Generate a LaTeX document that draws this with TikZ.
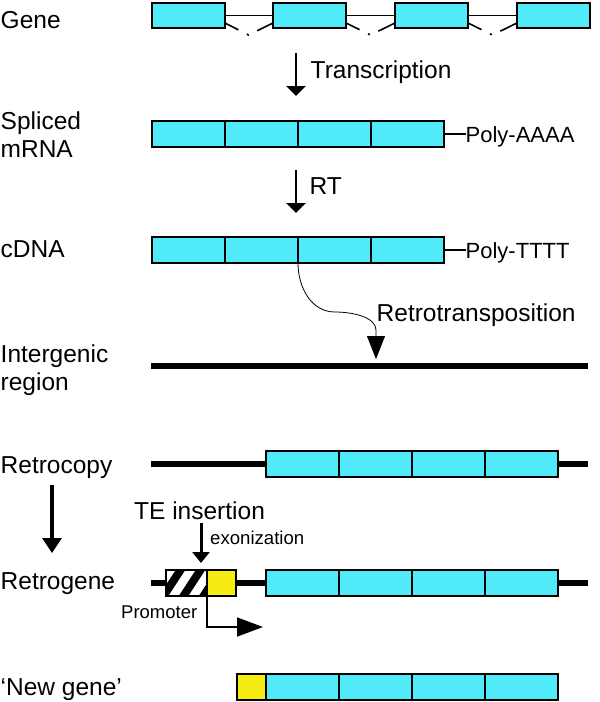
\documentclass[tikz,border=0pt]{standalone}
\usepackage{fontspec}
\setmainfont{Liberation Sans}
\usetikzlibrary{arrows.meta}
\definecolor{exoncyan}{RGB}{80,234,248}
\definecolor{promyellow}{RGB}{246,236,20}
\begin{document}
\begin{tikzpicture}[x=1pt,y=-1pt,
  exon/.style={draw=black, line width=2pt, fill=exoncyan, minimum width=73pt, minimum height=26pt, inner sep=0pt, outer sep=0pt},
  yexon/.style={exon, fill=promyellow, minimum width=29pt},
  lab/.style={font=\fontsize{24.5}{28}\selectfont, inner sep=0pt, anchor=base west},
  polylab/.style={font=\fontsize{22}{26}\selectfont, inner sep=0pt, anchor=base west},
  smalllab/.style={font=\fontsize{18.6}{22}\selectfont, inner sep=0pt, anchor=base west},
  intron/.style={line width=1.5pt},
  splice/.style={line width=1.6pt, dash pattern=on 15pt off 9.5pt on 2pt off 9.5pt on 20pt},
  chrom/.style={line width=6pt},
  polyline/.style={line width=1.8pt},
  downarrow/.style={line width=2.7pt, -{Triangle[length=10pt,width=19pt]}},
  bigarrow/.style={line width=3.2pt, -{Triangle[length=15pt,width=19pt]}},
  tearrow/.style={line width=3pt, -{Triangle[length=11pt,width=17pt]}},
  curvearrow/.style={line width=0.8pt, -{Triangle[length=23pt,width=18pt]}},
  promarrow/.style={line width=1.5pt, -{Triangle[length=26pt,width=19pt]}}
]
\useasboundingbox (0,0) rectangle (600,702);

% ---------- Gene ----------
\node[exon, minimum height=25pt] (g1) at (188.5,15.5) {};
\node[exon, minimum height=25pt] (g2) at (309.5,15.5) {};
\node[exon, minimum height=25pt] (g3) at (431.5,15.5) {};
\node[exon, minimum height=25pt] (g4) at (553.5,15.5) {};
\draw[intron] (g1.east) -- (g2.west);
\draw[intron] (g2.east) -- (g3.west);
\draw[intron] (g3.east) -- (g4.west);
\draw[splice] ([yshift=-7.5pt]g1.east) -- ++(23.5,12) -- ([yshift=-7.5pt]g2.west);
\draw[splice] ([yshift=-7.5pt]g2.east) -- ++(24.5,12) -- ([yshift=-7.5pt]g3.west);
\draw[splice] ([yshift=-7.5pt]g3.east) -- ++(24.5,12) -- ([yshift=-7.5pt]g4.west);
\node[lab] (lgene) at (0.5,28) {Gene};

% Transcription
\coordinate (ta) at (296,53);
\coordinate (tb) at (296,96);
\draw[downarrow] (ta) -- (tb);
\node[lab] (ltrans) at (310.5,78) {Transcription};

% ---------- Spliced mRNA ----------
\node[exon] (m1) at (188.5,134) {};
\node[exon] (m2) at (261.5,134) {};
\node[exon] (m3) at (334.5,134) {};
\node[exon] (m4) at (407.5,134) {};
\node[polylab] (pa) at (465.5,142) {Poly-AAAA};
\draw[polyline] (m4.east) -- (m4.east -| pa.west);
\node[lab] (lspl1) at (0.5,129) {Spliced};
\node[lab] (lspl2) at (0.5,157) {mRNA};

% RT
\coordinate (ra) at (296,170);
\coordinate (rb) at (296,213);
\draw[downarrow] (ra) -- (rb);
\node[lab] (lrt) at (309.5,194) {RT};

% ---------- cDNA ----------
\node[exon] (c1) at (188.5,250) {};
\node[exon] (c2) at (261.5,250) {};
\node[exon] (c3) at (334.5,250) {};
\node[exon] (c4) at (407.5,250) {};
\node[polylab] (pt) at (465.5,258) {Poly-TTTT};
\draw[polyline] (c4.east) -- (c4.east -| pt.west);
\node[lab] (lcdna) at (0.5,257) {cDNA};

% ---------- Intergenic region ----------
\coordinate (ig1) at (151,366);
\coordinate (ig2) at (588,366);
\draw[chrom] (ig1) -- (ig2);
\node[lab] (lig1) at (0.5,362) {Intergenic};
\node[lab] (lig2) at (0.5,390) {region};

% Retrotransposition
\coordinate (ins) at (376,359);
\draw[curvearrow] (c3.south west) .. controls (298,287) and (311,312) .. (335,312)
  .. controls (353.6,312) and (376,317.4) .. (376,330) -- (ins);
\node[lab] (lretro) at (376.5,321) {Retrotransposition};

% ---------- Retrocopy ----------
\coordinate (rc1) at (151,464);
\coordinate (rc2) at (588,464);
\draw[chrom] (rc1) -- (rc2);
\node[exon] (r1) at (302.5,464) {};
\node[exon] (r2) at (375.5,464) {};
\node[exon] (r3) at (448.5,464) {};
\node[exon] (r4) at (521.5,464) {};
\node[lab] (lrc) at (0.5,473) {Retrocopy};

% Retrocopy -> Retrogene
\coordinate (la) at (52,485);
\coordinate (lb) at (52,553);
\draw[bigarrow] (la) -- (lb);

% TE insertion
\node[lab] (lte) at (134,519) {TE insertion};
\coordinate (tea) at (201,523);
\coordinate (teb) at (201,563);
\draw[tearrow] (tea) -- (teb);
\node[smalllab] (lexon) at (210,544) {exonization};

% ---------- Retrogene ----------
\coordinate (rg1) at (151,583);
\coordinate (rg2) at (588,583);
\draw[chrom] (rg1) -- (rg2);
\node[exon, fill=white, minimum width=41pt] (te) at (186.5,583) {};
\begin{scope}
  \clip (te.south west) rectangle (te.north east);
  \foreach \sx in {172,192,212} {
    \draw[line width=8pt] (\sx-9.8,598) -- (\sx+9.8,568);
  }
\end{scope}
\draw[line width=2pt] (te.south west) rectangle (te.north east);
\node[yexon] (p1) at (221.5,583) {};
\node[exon] (q1) at (302.5,583) {};
\node[exon] (q2) at (375.5,583) {};
\node[exon] (q3) at (448.5,583) {};
\node[exon] (q4) at (521.5,583) {};
\node[lab] (lrg) at (0.5,589) {Retrogene};

% Promoter
\coordinate (pend) at (263,627);
\draw[promarrow] (p1.south west) |- (pend);
\node[smalllab, font=\fontsize{18.5}{22}\selectfont] (lprom) at (121,618) {Promoter};

% ---------- New gene ----------
\node[yexon] (n0) at (251.5,687) {};
\node[exon] (n1) at (302.5,687) {};
\node[exon] (n2) at (375.5,687) {};
\node[exon] (n3) at (448.5,687) {};
\node[exon] (n4) at (521.5,687) {};
\node[lab] (lnew) at (0.5,695.5) {‘New gene’};
\end{tikzpicture}
\end{document}
